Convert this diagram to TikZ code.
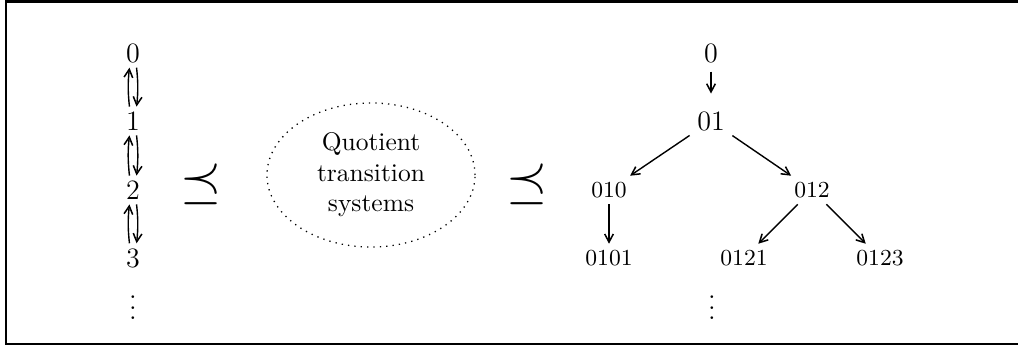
\documentclass[tikz,border=0pt]{standalone}
\usetikzlibrary{shapes.geometric,arrows.meta}
\begin{document}
\begin{tikzpicture}[x=0.3922pt,y=-0.3922pt,
  big/.style={font=\fontsize{11}{13}\selectfont, inner sep=2pt, outer sep=0pt},
  sm/.style={font=\small, inner sep=2.5pt, outer sep=0pt},
  rel/.style={font=\fontsize{21}{24}\selectfont, inner sep=0pt},
  arr/.style={-{Straight Barb[length=3.2pt,width=3.4pt,line width=0.6pt]}, line width=0.55pt}]
\useasboundingbox (0,0) rectangle (1018,347);
\draw[line width=0.8pt] (6,1.5) rectangle (1024,344);
% left chain
\node[big] (l0) at (133,53) {0};
\node[big] (l1) at (133,121) {1};
\node[big] (l2) at (133,190) {2};
\node[big] (l3) at (133,258) {3};
\node[big] (ld) at (133,300) {$\vdots$};
\foreach \a/\b in {l0/l1,l1/l2,l2/l3}{
  \draw[arr] ([xshift=-1.4pt]\b.north) to[bend left=6] ([xshift=-1.4pt]\a.south);
  \draw[arr] ([xshift=1.4pt]\a.south) to[bend left=6] ([xshift=1.4pt]\b.north);
}
% relations
\node[rel] (p1) at (201,184) {$\preceq$};
\node[rel] (p2) at (527,184) {$\preceq$};
% ellipse
\node[ellipse, draw, dotted, line width=0.5pt, minimum width=81.6pt, minimum height=56.5pt, align=center, inner sep=0pt] (q) at (371,175) {Quotient\\transition\\systems};
% tree
\node[big] (t0) at (711,53) {0};
\node[big, inner sep=3pt] (t01) at (711,121) {01};
\node[sm] (t010) at (609,190) {010};
\node[sm] (t012) at (812,190) {012};
\node[sm] (t0101) at (609,258) {0101};
\node[sm] (t0121) at (744,258) {0121};
\node[sm] (t0123) at (880,258) {0123};
\node[big] (td) at (712,300) {$\vdots$};
\draw[arr, shorten <=1.5pt, shorten >=4pt] (t0) -- (t01);
\draw[arr] (t01) -- (t010);
\draw[arr] (t01) -- (t012);
\draw[arr] (t010) -- (t0101);
\draw[arr] (t012) -- (t0121);
\draw[arr] (t012) -- (t0123);
\end{tikzpicture}
\end{document}
